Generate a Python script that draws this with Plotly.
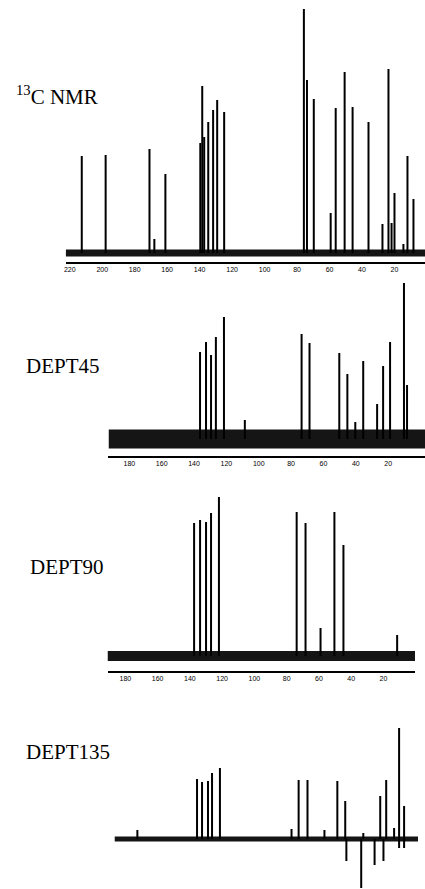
import plotly.graph_objects as go

W, H = 425, 889

# ---------------- data (chemical shift in ppm, relative intensity) ----------------
c13_ppm = [212.6, 197.9, 170.9, 167.9, 161.1, 139.6, 138.4, 137.2, 134.7, 131.7, 129.2, 124.9,
           75.8, 73.9, 69.7, 59.3, 56.2, 50.7, 45.8, 36.0, 27.4, 23.7, 21.8, 20.0, 14.5, 12.0, 8.3]
c13_int = [97, 98, 104, 14, 79, 110, 167, 116, 131, 143, 153, 141,
           244, 173, 154, 40, 145, 181, 146, 131, 29, 184, 30, 60, 9, 97, 54]
c13_ticks = [220, 200, 180, 160, 140, 120, 100, 80, 60, 40, 20]
c13_window = [222.5, 1.2]

dept45_ppm = [136.3, 132.6, 129.5, 126.5, 121.5, 108.6, 73.5, 68.6, 50.2, 45.2, 40.3, 35.4,
              26.8, 23.1, 18.8, 10.2, 8.3]
dept45_int = [87, 97, 84, 102, 122, 19, 105, 96, 86, 65, 17, 78, 35, 73, 97, 156, 54]
dept45_ticks = [180, 160, 140, 120, 100, 80, 60, 40, 20]
dept45_window = [192.9, -2.8]

dept90_ppm = [137.4, 133.7, 130.0, 126.9, 122.0, 73.8, 68.3, 59.0, 50.4, 44.8, 11.5]
dept90_int = [133, 136, 134, 143, 159, 144, 133, 28, 144, 111, 21]
dept90_ticks = [180, 160, 140, 120, 100, 80, 60, 40, 20]
dept90_window = [191.1, 0.4]

dept135_pos_ppm = [174.1, 137.1, 134.0, 130.3, 127.8, 122.9, 78.5, 74.1, 68.6, 58.1, 50.1, 45.2,
                   34.0, 23.5, 19.8, 14.9, 11.8, 8.7]
dept135_pos_int = [9, 60, 57, 58, 66, 71, 10, 59, 59, 9, 58, 38, 6, 43, 59, 11, 111, 33]
dept135_neg_ppm = [44.5, 35.3, 27.0, 21.5, 11.8, 8.7]
dept135_neg_int = [-22, -49, -26, -22, -9, -9]
dept135_window = [188.3, 0.06]

labels = ["<sup>13</sup>C NMR", "DEPT45", "DEPT90", "DEPT135"]

# ---------------- figure ----------------
fig = go.Figure()


def sticks(ppm, inten):
    xs, ys = [], []
    for p, v in zip(ppm, inten):
        xs += [p, p, None]
        ys += [0, v, None]
    return xs, ys


panels = [
    dict(peaks=[(c13_ppm, c13_int)], win=c13_window, ticks=c13_ticks,
         xpx=(64, 425), ypx=(0, 262), yr=(-9, 253), band=7, axis=True),
    dict(peaks=[(dept45_ppm, dept45_int)], win=dept45_window, ticks=dept45_ticks,
         xpx=(107, 425), ypx=(280, 456), yr=(-17, 159), band=19, axis=True),
    dict(peaks=[(dept90_ppm, dept90_int)], win=dept90_window, ticks=dept90_ticks,
         xpx=(106, 415), ypx=(480, 671), yr=(-15, 176), band=10, axis=True),
    dict(peaks=[(dept135_pos_ppm, dept135_pos_int), (dept135_neg_ppm, dept135_neg_int)],
         win=dept135_window, ticks=[], xpx=(113, 418), ypx=(690, 889), yr=(-50, 149),
         band=5, axis=False),
]

for i, P in enumerate(panels, start=1):
    xa = "x" if i == 1 else f"x{i}"
    ya = "y" if i == 1 else f"y{i}"
    fig.add_trace(go.Scatter(x=P["win"], y=[0, 0], mode="lines",
                             line=dict(color="#151515", width=P["band"]),
                             xaxis=xa, yaxis=ya, hoverinfo="skip"))
    for ppm, inten in P["peaks"]:
        xs, ys = sticks(ppm, inten)
        fig.add_trace(go.Scatter(x=xs, y=ys, mode="lines",
                                 line=dict(color="#000", width=2),
                                 xaxis=xa, yaxis=ya, hoverinfo="skip"))
    xk = "xaxis" if i == 1 else f"xaxis{i}"
    yk = "yaxis" if i == 1 else f"yaxis{i}"
    fig.update_layout(**{
        xk: dict(domain=[P["xpx"][0] / W, P["xpx"][1] / W], range=P["win"], anchor=ya,
                 visible=P["axis"], showline=True, linecolor="#000", linewidth=2,
                 showgrid=False, zeroline=False, tickvals=P["ticks"], ticks="",
                 tickfont=dict(size=7, color="#000", family="Liberation Sans")),
        yk: dict(domain=[1 - P["ypx"][1] / H, 1 - P["ypx"][0] / H], range=list(P["yr"]),
                 anchor=xa, visible=False),
    })

label_pos = [(12, 95), (22, 366), (26, 567), (22, 752)]
for txt, (lx, ly) in zip(labels, label_pos):
    fig.add_annotation(text=txt, x=lx / W, y=1 - ly / H, xref="paper", yref="paper",
                       xanchor="left", yanchor="middle", showarrow=False,
                       font=dict(family="Liberation Serif", size=21, color="#000"))

fig.update_layout(width=W, height=H, margin=dict(l=0, r=0, t=0, b=0),
                  paper_bgcolor="white", plot_bgcolor="white", showlegend=False)

fig.write_html("out.html", config={"displayModeBar": False},
               post_script="document.body.style.margin='0';document.body.style.padding='0';")
